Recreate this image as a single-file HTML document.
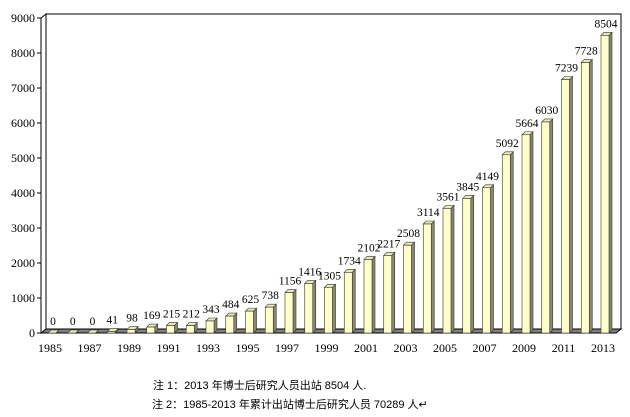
<!DOCTYPE html>
<html><head><meta charset="utf-8">
<style>
body{margin:0;background:#fff;}
svg{display:block;}
.t{font-family:"Liberation Serif","Noto Serif CJK SC",serif;font-size:12px;fill:#000;}
.v{font-family:"Liberation Serif",serif;font-size:11.5px;fill:#000;}
.n{font-family:"Liberation Sans","Noto Sans CJK SC",sans-serif;font-size:11px;fill:#000;}
</style></head>
<body>
<svg id="chart" width="630" height="417">
<g id="frame"></g>
<g id="bars"></g>
<g id="labels"></g>
<text class="n" x="153" y="389">注 1：2013 年博士后研究人员出站 8504 人.</text>
<text class="n" x="152" y="408">注 2：1985-2013 年累计出站博士后研究人员 70289 人↵</text>
</svg>
<script>
const years=[1985,1986,1987,1988,1989,1990,1991,1992,1993,1994,1995,1996,1997,1998,1999,2000,2001,2002,2003,2004,2005,2006,2007,2008,2009,2010,2011,2012,2013];
const values=[0,0,0,41,98,169,215,212,343,484,625,738,1156,1416,1305,1734,2102,2217,2508,3114,3561,3845,4149,5092,5664,6030,7239,7728,8504];
const yTicks=[0,1000,2000,3000,4000,5000,6000,7000,8000,9000];
const NS="http://www.w3.org/2000/svg";
const y0=333,yTop=18,ymax=9000,dx=5,dy=4;
const yScale=v=>y0-(v/ymax)*(y0-yTop);
const xScale=i=>52+i*19.75;
function mk(tag,attrs,parent){const e=document.createElementNS(NS,tag);for(const k in attrs)e.setAttribute(k,attrs[k]);parent.appendChild(e);return e;}
const frame=document.getElementById('frame'),bars=document.getElementById('bars'),labels=document.getElementById('labels');
// back wall and floor
let e=mk('polygon',{points:`${41+dx},${yTop-dy} 621,${yTop-dy} 621,${y0-dy} ${41+dx},${y0-dy}`,fill:'#fff',stroke:'#000','stroke-width':1},frame);

e=mk('polygon',{points:`41,${y0} ${41+dx},${y0-dy} 621,${y0-dy} 616,${y0}`,fill:'#808080',stroke:'#000','stroke-width':1},frame);

e=mk('polygon',{points:`41,${yTop} ${41+dx},${yTop-dy} ${41+dx},${y0-dy} 41,${y0}`,fill:'#fff',stroke:'#000','stroke-width':1},frame);

yTicks.forEach(t=>{
 const y=yScale(t);
 const tx=mk('text',{class:'t',x:35,y:y+4,'text-anchor':'end'},labels);tx.textContent=t;
 
 
 const l=mk('line',{x1:37,x2:41,y1:y,y2:y,stroke:'#000'},frame);
 
 
});
values.forEach((v,i)=>{
 const cx=xScale(i),w=8,x=cx-w/2,yt=yScale(v);
 const g=mk('g',{},bars);
 
 
 mk('polygon',{points:`${x+w},${yt} ${x+w+3},${yt-3} ${x+w+3},${y0-3} ${x+w},${y0}`,fill:'#8a8a6a',stroke:'#333','stroke-width':0.6},g);
 mk('polygon',{points:`${x},${yt} ${x+3},${yt-3} ${x+w+3},${yt-3} ${x+w},${yt}`,fill:'#e8e8b8',stroke:'#333','stroke-width':0.6},g);
 mk('rect',{x:x,y:yt,width:w,height:y0-yt,fill:'#ffffcc',stroke:'#333','stroke-width':0.6},g);
 const tv=mk('text',{class:'v',x:cx+1,y:yt-8,'text-anchor':'middle'},labels);tv.textContent=v;
 
 
 if(i%2===0){const ty=mk('text',{class:'t',x:cx-2,y:352,'text-anchor':'middle'},labels);ty.textContent=years[i];
 
 }
});
</script>
</body></html>
